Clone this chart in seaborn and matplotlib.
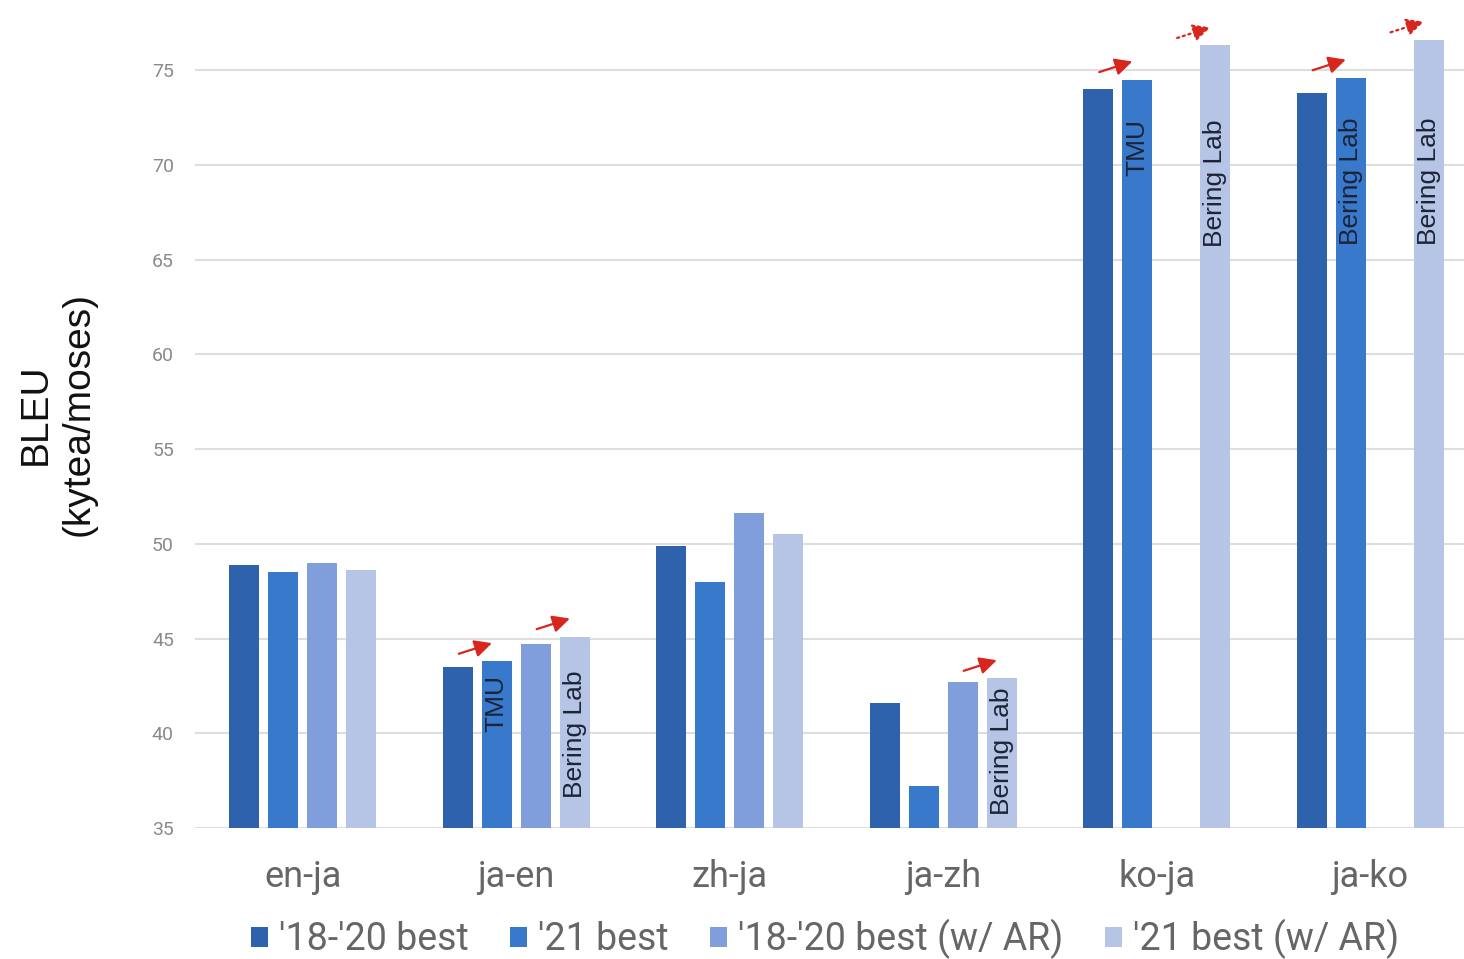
import numpy as np
import pandas as pd
import matplotlib
matplotlib.use("Agg")
import matplotlib.pyplot as plt
import seaborn as sns

# datos
pairs = ["en-ja", "ja-en", "zh-ja", "ja-zh", "ko-ja", "ja-ko"]
series = ["'18-'20 best", "'21 best", "'18-'20 best (w/ AR)", "'21 best (w/ AR)"]
best_18_20 = [48.9, 43.5, 49.9, 41.6, 74.0, 73.8]
best_21 = [48.5, 43.8, 48.0, 37.2, 74.5, 74.6]
best_18_20_ar = [49.0, 44.7, 51.6, 42.7, np.nan, np.nan]
best_21_ar = [48.6, 45.1, 50.5, 42.9, 76.3, 76.6]
colors = ["#2f62ad", "#3979cc", "#7f9edb", "#b6c4e6"]

# etiquetas verticales dentro de las barras: (par, serie, texto, y superior)
bar_notes = [
    (1, 1, "TMU", 43.1),
    (1, 3, "Bering Lab", 43.3),
    (3, 3, "Bering Lab", 42.4),
    (4, 1, "TMU", 72.4),
    (4, 3, "Bering Lab", 72.4),
    (5, 1, "Bering Lab", 72.5),
    (5, 3, "Bering Lab", 72.5),
]
# flechas rojas: (par, serie destino, estilo)
arrows = [
    (1, 1, "-"), (1, 3, "-"), (3, 3, "-"),
    (4, 1, "-"), (4, 3, ":"),
    (5, 1, "-"), (5, 3, ":"),
]

values = [best_18_20, best_21, best_18_20_ar, best_21_ar]
df = pd.DataFrame({
    "pair": np.tile(pairs, len(series)),
    "series": np.repeat(series, len(pairs)),
    "bleu": np.concatenate(values),
})

sns.set_style("white")
plt.rcParams["font.family"] = ["Roboto", "DejaVu Sans"]

fig = plt.figure(figsize=(14.64, 9.59), dpi=100)
ax = fig.add_axes([0.133, 0.1366, 0.867, 0.8634])

sns.barplot(
    data=df, x="pair", y="bleu", hue="series",
    order=pairs, hue_order=series, palette=colors,
    width=0.73, gap=0.23, errorbar=None, ax=ax,
    linewidth=0, saturation=1,
)

ax.set_ylim(35, 78.7)
ax.set_xlim(-0.506, 5.44)
ax.set_yticks(range(35, 80, 5))
ax.grid(axis="y", color="#dedede", linewidth=1.5)
ax.set_axisbelow(True)
for s in ax.spines.values():
    s.set_visible(False)
ax.tick_params(axis="y", length=0, pad=15, labelsize=14, labelcolor="#8a8a8a")
ax.tick_params(axis="x", length=0, pad=22, labelsize=26, labelcolor="#666666")
ax.set_xlabel("")
ax.set_ylabel("BLEU\n(kytea/moses)", fontsize=28, family="Liberation Sans",
              color="#111111", labelpad=40, linespacing=1.25)

# posición real de cada barra
bars = {}
for si, cont in enumerate(ax.containers):
    for b in cont:
        h = b.get_height()
        if np.isnan(h):
            continue
        xc = b.get_x() + b.get_width() / 2
        bars[(int(round(xc)), si)] = (xc, b.get_y() + h)

for g, si, txt, ytop in bar_notes:
    xc, _ = bars[(g, si)]
    ax.text(xc, ytop, txt, rotation=90, ha="center", va="top",
            fontsize=19, family="Liberation Sans", color="#1c2436")

for g, si, ls in arrows:
    xc, top = bars[(g, si)]
    x1, y1 = xc - 0.01, top + 1.0
    ax.annotate("", xy=(x1, y1), xytext=(x1 - 0.18, y1 - 0.65),
                arrowprops=dict(arrowstyle="-|>", color="#d7261e", lw=1.6,
                                linestyle=ls, mutation_scale=26),
                annotation_clip=False)

handles, labels = ax.get_legend_handles_labels()
ax.legend_.remove()
fig.legend(handles, labels, loc="center", bbox_to_anchor=(0.5635, 0.021),
           ncol=4, frameon=False, fontsize=27, labelcolor="#666666",
           handlelength=0.45, handleheight=0.45, handletextpad=0.3,
           columnspacing=1.1)

fig.savefig("out.png", dpi=100)
